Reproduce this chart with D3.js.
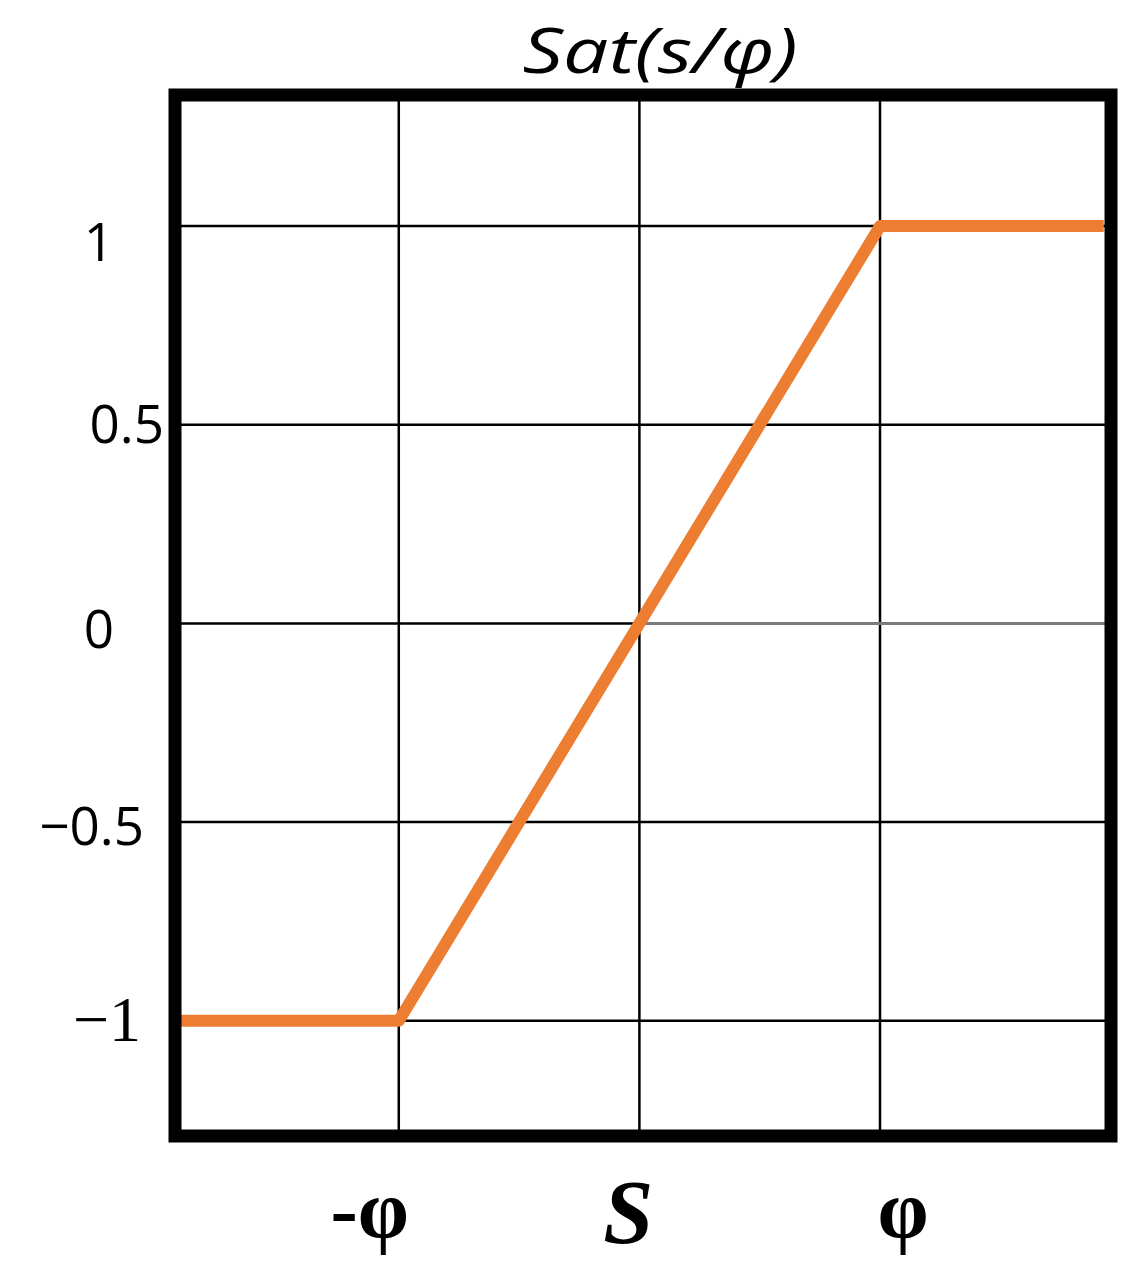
<!DOCTYPE html>
<html>
<head>
<meta charset="utf-8">
<script src="https://cdn.jsdelivr.net/npm/d3@7"></script>
<style>
  body { margin: 0; background: #fff; }
  svg { display: block; }
</style>
</head>
<body>
<svg width="1141" height="1279"></svg>
<script>
// data
var satS = [-1.93, -1, 1, 1.93];      // s / phi
var satValue = [-1, -1, 1, 1];        // Sat(s/phi)
var yTicks = [1, 0.5, 0, -0.5, -1];
var yTickLabels = ['1', '0.5', '0', '\u22120.5', '\u22121'];
var xTicks = [-1, 0, 1];
var xTickLabels = ['-\u03c6', 'S', '\u03c6'];
var title = 'Sat(s/\u03c6)';

var svg = d3.select('svg');

var x = d3.scaleLinear().domain([-1.93, 1.96]).range([175, 1111]);
var y = d3.scaleLinear().domain([-1.29, 1.33]).range([1136, 95]);

// grid
svg.selectAll('.vgrid')
  .data(xTicks)
  .enter()
  .append('line')
  .attr('x1', d => x(d))
  .attr('x2', d => x(d))
  .attr('y1', y.range()[1])
  .attr('y2', y.range()[0])
  .style('stroke', '#000')
  .style('stroke-width', 2.5);

svg.selectAll('.hgrid')
  .data(yTicks)
  .enter()
  .append('line')
  .attr('x1', x.range()[0])
  .attr('x2', d => d === 0 ? x(0) : x.range()[1])
  .attr('y1', d => y(d))
  .attr('y2', d => y(d))
  .style('stroke', '#000')
  .style('stroke-width', 2.5);

// the zero line right of the centre is grey in the original
svg.append('line')
  .attr('x1', x(0))
  .attr('x2', x.range()[1])
  .attr('y1', y(0))
  .attr('y2', y(0))
  .style('stroke', '#7a7a7a')
  .style('stroke-width', 3);

// saturation curve
var line = d3.line()
  .x((d, i) => x(satS[i]))
  .y(d => y(d));

svg.append('path')
  .datum(satValue)
  .attr('d', line)
  .attr('fill', 'none')
  .attr('stroke', '#ED7D31')
  .attr('stroke-width', 12)
  .attr('stroke-linejoin', 'round');

// frame
svg.append('rect')
  .attr('x', x.range()[0])
  .attr('y', y.range()[1])
  .attr('width', x.range()[1] - x.range()[0])
  .attr('height', y.range()[0] - y.range()[1])
  .attr('fill', 'none')
  .attr('stroke', '#000')
  .attr('stroke-width', 13);

// y labels (they are not aligned alike in the original)
var yLabelLayout = {
  '1': { x: 99, dy: 14, anchor: 'middle', font: 'Open Sans', size: 53 },
  '0.5': { x: 164, dy: -2, anchor: 'end', font: 'Open Sans', size: 53 },
  '0': { x: 99, dy: 4, anchor: 'middle', font: 'Open Sans', size: 53 },
  '-0.5': { x: 144, dy: 2, anchor: 'end', font: 'Open Sans', size: 53 },
  '-1': { x: 141, dy: -1, anchor: 'end', font: 'Liberation Serif', size: 64 }
};

svg.selectAll('.ylabel')
  .data(yTicks)
  .enter()
  .append('text')
  .attr('x', d => yLabelLayout[String(d)].x)
  .attr('y', d => y(d) + yLabelLayout[String(d)].dy)
  .attr('dominant-baseline', 'central')
  .attr('text-anchor', d => yLabelLayout[String(d)].anchor)
  .style('font-family', d => yLabelLayout[String(d)].font)
  .style('font-size', d => yLabelLayout[String(d)].size + 'px')
  .attr('fill', '#000')
  .text((d, i) => yTickLabels[i]);

// x labels
var xLabelDx = [-29, -11, 23];
svg.selectAll('.xlabel')
  .data(xTicks)
  .enter()
  .append('text')
  .attr('x', (d, i) => x(d) + xLabelDx[i])
  .attr('y', (d, i) => i === 1 ? 1243 : 1237)
  .attr('text-anchor', 'middle')
  .style('font-family', 'Liberation Serif')
  .style('font-weight', 'bold')
  .style('font-style', (d, i) => i === 1 ? 'italic' : 'normal')
  .style('font-size', (d, i) => i === 1 ? '90px' : '82px')
  .text((d, i) => xTickLabels[i]);

// title
svg.append('text')
  .attr('x', 660)
  .attr('y', 73)
  .attr('text-anchor', 'middle')
  .attr('textLength', 275)
  .attr('lengthAdjust', 'spacingAndGlyphs')
  .style('font-family', 'Open Sans')
  .style('font-style', 'italic')
  .style('font-size', '62px')
  .text(title);
</script>
</body>
</html>
